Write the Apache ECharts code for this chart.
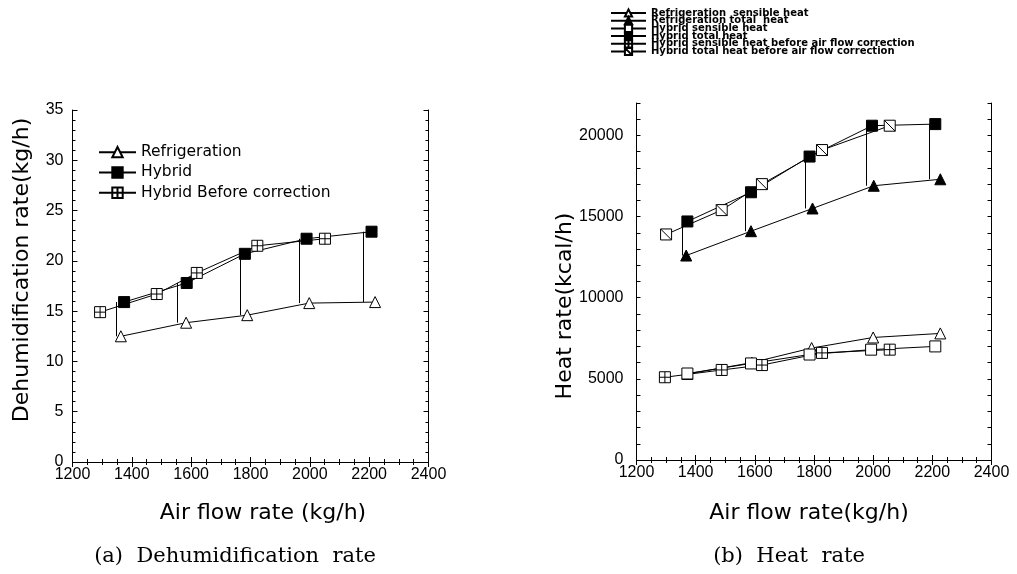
<!DOCTYPE html>
<html>
<head>
<meta charset="utf-8">
<script src="https://cdn.jsdelivr.net/npm/echarts@6/dist/echarts.min.js"></script>
<style>
  html, body { margin: 0; padding: 0; background: #fff; }
  #container { width: 1017px; height: 574px; }
</style>
</head>
<body>
<div id="container"></div>
<script>
// (a) dehumidification rate, kg/h
var refX = [1363, 1583, 1789, 1998, 2220];
var refY = [12.5, 13.85, 14.6, 15.8, 15.9];
var hybX = [1374, 1585, 1781, 1989, 2208];
var hybY = [15.9, 17.8, 20.7, 22.2, 22.9];
var befX = [1293, 1484, 1619, 1823, 2051];
var befY = [14.9, 16.7, 18.8, 21.5, 22.2];
var linkX = [1349, 1553, 1765, 1963, 2181]; // vertical ref -> hybrid lines

// (b) heat rate, kcal/h
var rTotX = [1368, 1587, 1795, 2002, 2227];
var rTotY = [12600, 14100, 15500, 16900, 17300];
var hTotX = [1372, 1587, 1785, 1996, 2210];
var hTotY = [14700, 16500, 18700, 20600, 20700];
var bTotX = [1300, 1488, 1624, 1827, 2056];
var bTotY = [13900, 15400, 17000, 19100, 20600];
var rSenX = [1372, 1590, 1792, 2000, 2227];
var rSenY = [5300, 6000, 6900, 7550, 7800];
var hSenX = [1372, 1587, 1785, 1993, 2210];
var hSenY = [5330, 5950, 6500, 6800, 7000];
var bSenX = [1296, 1488, 1624, 1827, 2056];
var bSenY = [5100, 5550, 5850, 6600, 6800];
var heatLinkX = [1353, 1567, 1770, 1977, 2188];

var xTicks = [1200, 1400, 1600, 1800, 2000, 2200, 2400];

var crossBox = 'path://M0,0L10,0L10,10L0,10Z M5,0L5,10 M0,5L10,5';
var slashBox = 'path://M0,0L10,0L10,10L0,10Z M0,0L10,10';

function pts(xs, ys) {
  return xs.map(function (x, i) { return [x, ys[i]]; });
}
function links(xs, lo, hi) {
  return xs.map(function (x, i) {
    return [{ coord: [x, lo[i]] }, { coord: [x, hi[i]] }];
  });
}

function mkSeries(name, gi, data, symbol, fill) {
  return {
    name: name,
    type: 'line',
    xAxisIndex: gi * 2,
    yAxisIndex: gi * 2,
    data: data,
    symbol: symbol,
    symbolSize: 11,
    showAllSymbol: true,
    lineStyle: { color: '#000', width: 1 },
    itemStyle: { color: fill, borderColor: '#000', borderWidth: 1 },
    emphasis: { disabled: true }
  };
}

var lab = { color: '#000', fontFamily: 'Liberation Sans', fontSize: 16 };
var line = { show: true, lineStyle: { color: '#000', width: 1 } };

function xAx(gi, top) {
  return {
    type: 'value', gridIndex: gi, position: top ? 'top' : 'bottom',
    min: 1200, max: 2400, interval: 200,
    axisLine: line,
    axisTick: { inside: true, length: 5, lineStyle: { color: '#000' } },
    minorTick: { show: true, splitNumber: 4, length: 3, lineStyle: { color: '#000' } },
    axisLabel: Object.assign({ show: !top, margin: 5, formatter: function (v) { return xTicks.indexOf(v) >= 0 ? v : ''; } }, lab),
    splitLine: { show: false }
  };
}

var option = {
  animation: false,
  backgroundColor: '#fff',
  grid: [
    { left: 72.5, top: 110, width: 356, height: 352 },
    { left: 636.5, top: 103, width: 355, height: 357 }
  ],
  xAxis: [xAx(0, false), xAx(0, true), xAx(1, false), xAx(1, true)],
  yAxis: [
    {
      type: 'value', gridIndex: 0, min: 0, max: 35, interval: 5,
      axisLine: line,
      axisTick: { inside: true, length: 5, lineStyle: { color: '#000' } },
      minorTick: { show: true, splitNumber: 5, length: 3, lineStyle: { color: '#000' } },
      axisLabel: Object.assign({ margin: 9 }, lab),
      splitLine: { show: false }
    },
    {
      type: 'value', gridIndex: 0, position: 'right', min: 0, max: 35, interval: 5,
      axisLine: line,
      axisTick: { inside: true, length: 5, lineStyle: { color: '#000' } },
      minorTick: { show: true, splitNumber: 5, length: 3, lineStyle: { color: '#000' } },
      axisLabel: { show: false },
      splitLine: { show: false }
    },
    {
      type: 'value', gridIndex: 1, min: 0, max: 22000, interval: 1000,
      axisLine: line,
      axisTick: { inside: true, length: 4, lineStyle: { color: '#000' } },
      axisLabel: Object.assign({ margin: 13, formatter: function (v) { return v % 5000 === 0 ? v : ''; } }, lab),
      splitLine: { show: false }
    },
    {
      type: 'value', gridIndex: 1, position: 'right', min: 0, max: 22000, interval: 1000,
      axisLine: line,
      axisTick: { inside: true, length: 4, lineStyle: { color: '#000' } },
      axisLabel: { show: false },
      splitLine: { show: false }
    }
  ],
  legend: [
    {
      data: ['Refrigeration', 'Hybrid', 'Hybrid Before correction'],
      orient: 'vertical', left: 93, top: 137,
      itemWidth: 37, itemHeight: 13, itemGap: 0,
      selectedMode: false,
      textStyle: { color: '#000', fontFamily: 'DejaVu Sans', fontSize: 15.5, lineHeight: 20.3 }
    },
    {
      data: ['Refrigeration  sensible heat', 'Refrigeration total  heat', 'Hybrid sensible heat',
             'Hybrid total heat', 'Hybrid sensible heat before air flow correction',
             'Hybrid total heat before air flow correction'],
      orient: 'vertical', left: 605, top: 3,
      itemWidth: 35, itemHeight: 9, itemGap: -2.3,
      selectedMode: false,
      textStyle: { color: '#000', fontFamily: 'DejaVu Sans', fontWeight: 'bold', fontSize: 10, lineHeight: 8 }
    }
  ],
  graphic: [
    { type: 'text', x: 22, y: 270, rotation: Math.PI / 2,
      style: { text: 'Dehumidification rate(kg/h)', font: '22px "DejaVu Sans"', fill: '#000', textAlign: 'center', textVerticalAlign: 'middle' } },
    { type: 'text', x: 565, y: 306, rotation: Math.PI / 2,
      style: { text: 'Heat rate(kcal/h)', font: '22px "DejaVu Sans"', fill: '#000', textAlign: 'center', textVerticalAlign: 'middle' } },
    { type: 'text', x: 263, y: 513,
      style: { text: 'Air flow rate (kg/h)', font: '22px "DejaVu Sans"', fill: '#000', textAlign: 'center', textVerticalAlign: 'middle' } },
    { type: 'text', x: 809, y: 513,
      style: { text: 'Air flow rate(kg/h)', font: '22px "DejaVu Sans"', fill: '#000', textAlign: 'center', textVerticalAlign: 'middle' } },
    { type: 'text', x: 235, y: 557,
      style: { text: '(a)  Dehumidification  rate', font: '21px "DejaVu Serif"', fill: '#000', textAlign: 'center', textVerticalAlign: 'middle' } },
    { type: 'text', x: 789, y: 557,
      style: { text: '(b)  Heat  rate', font: '21px "DejaVu Serif"', fill: '#000', textAlign: 'center', textVerticalAlign: 'middle' } }
  ],
  series: [
    Object.assign(mkSeries('Refrigeration', 0, pts(refX, refY), 'triangle', '#fff'), {
      markLine: {
        silent: true, symbol: ['none', 'none'], label: { show: false },
        lineStyle: { color: '#000', width: 1, type: 'solid' },
        data: links(linkX, refY, hybY)
      }
    }),
    mkSeries('Hybrid', 0, pts(hybX, hybY), 'rect', '#000'),
    mkSeries('Hybrid Before correction', 0, pts(befX, befY), crossBox, '#fff'),

    mkSeries('Refrigeration  sensible heat', 1, pts(rSenX, rSenY), 'triangle', '#fff'),
    Object.assign(mkSeries('Refrigeration total  heat', 1, pts(rTotX, rTotY), 'triangle', '#000'), {
      markLine: {
        silent: true, symbol: ['none', 'none'], label: { show: false },
        lineStyle: { color: '#000', width: 1, type: 'solid' },
        data: links(heatLinkX, rTotY, hTotY)
      }
    }),
    mkSeries('Hybrid sensible heat', 1, pts(hSenX, hSenY), 'rect', '#fff'),
    mkSeries('Hybrid total heat', 1, pts(hTotX, hTotY), 'rect', '#000'),
    mkSeries('Hybrid sensible heat before air flow correction', 1, pts(bSenX, bSenY), crossBox, '#fff'),
    mkSeries('Hybrid total heat before air flow correction', 1, pts(bTotX, bTotY), slashBox, '#fff')
  ]
};

var myChart = echarts.init(document.getElementById('container'));
myChart.setOption(option);
</script>
</body>
</html>
